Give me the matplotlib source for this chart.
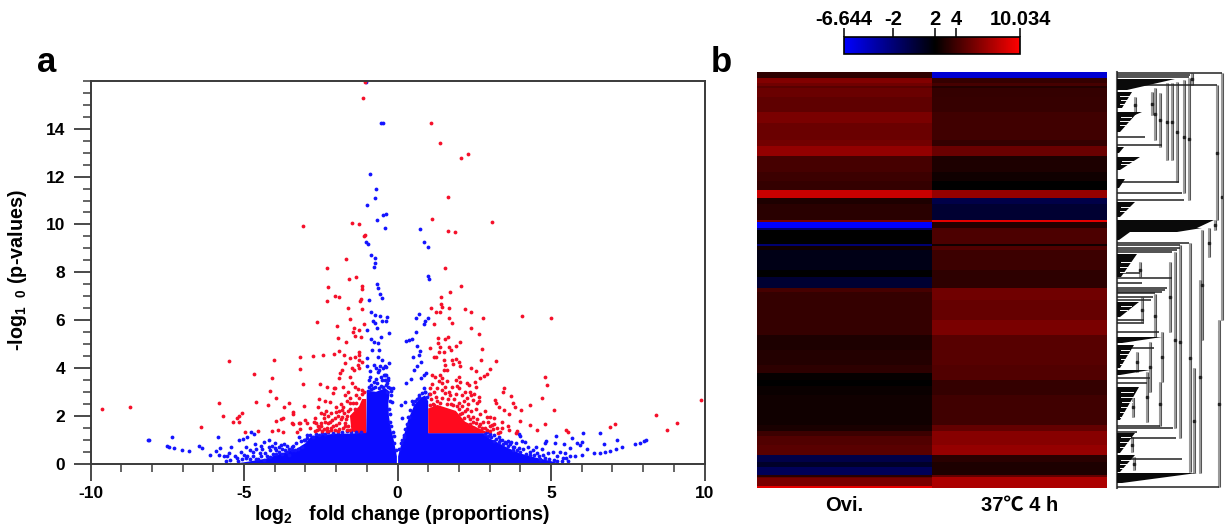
import numpy as np
import matplotlib
matplotlib.use("Agg")
import matplotlib.pyplot as plt
from matplotlib.colors import LinearSegmentedColormap, Normalize
from matplotlib.cm import ScalarMappable
from matplotlib.ticker import MultipleLocator

plt.rcParams["font.family"] = ["Liberation Sans", "Noto Sans CJK SC", "DejaVu Sans"]
plt.rcParams["font.weight"] = "bold"
plt.rcParams["mathtext.fontset"] = "custom"
plt.rcParams["mathtext.rm"] = "Liberation Sans:bold"
plt.rcParams["mathtext.default"] = "rm"
plt.rcParams["axes.unicode_minus"] = False

W, H = 1232, 531


def box(left, top, right, bottom):
    # pixel box to figure fraction
    return [left / W, 1 - bottom / H, (right - left) / W, (bottom - top) / H]


# ---- volcano data: (log2 fold change, -log10 p)
red_far = [(-9.63, 2.27), (-8.71, 2.36), (-6.4, 1.51), (-5.82, 2.52), (-5.7, 2.0), (-5.5, 4.27), (-5.36, 1.74),
           (-5.23, 1.9), (-5.16, 1.99), (-5.15, 1.75), (-5.08, 2.13), (-4.98, 1.32), (-4.66, 3.76), (-4.62, 2.56),
           (-4.56, 1.37), (-4.22, 2.45), (-4.14, 3.03), (-4.08, 3.56), (-4.08, 1.37), (-4.02, 4.32), (-3.96, 2.75),
           (-3.96, 1.76), (-3.89, 1.4), (-3.8, 1.86), (-3.74, 1.92), (-3.74, 1.33), (-3.69, 2.38), (-3.53, 2.52),
           (-3.45, 1.71), (-3.41, 1.65), (-3.4, 2.14), (-3.4, 2.06), (-3.27, 1.33), (-3.21, 1.71), (-3.16, 4.44),
           (-3.16, 3.94), (-3.16, 1.68), (-3.16, 1.43), (-3.08, 9.94), (-3.07, 3.31), (-3.06, 2.41), (-3.0, 1.82),
           (-2.94, 1.68), (-2.74, 4.5), (-2.73, 1.75), (-2.67, 1.68), (9.88, 2.66), (9.12, 1.71), (8.77, 1.42),
           (8.41, 2.02), (7.09, 1.65), (6.93, 1.53), (5.55, 1.33), (5.5, 1.4), (5.11, 2.24), (5.0, 6.07),
           (4.87, 3.3), (4.82, 3.62), (4.82, 1.65), (4.71, 2.74), (4.54, 1.42), (4.31, 2.45), (4.31, 1.62),
           (4.06, 6.17), (4.03, 2.24), (4.0, 1.76), (3.89, 1.36), (3.86, 1.26), (3.84, 2.38), (3.76, 2.55),
           (3.7, 2.82), (3.62, 2.07), (3.62, 1.4), (3.6, 1.58), (3.48, 3.16), (3.46, 2.24), (3.44, 3.0),
           (3.4, 1.75), (3.4, 1.47), (3.35, 1.33), (3.3, 2.35), (3.26, 1.29), (3.22, 4.29), (3.2, 2.55),
           (3.19, 2.66), (3.13, 1.89), (3.08, 10.12), (3.08, 1.61)]
red_top = [(-1.05, 15.95), (-1.12, 15.27), (-1.47, 10.06), (-1.25, 10.0), (-1.1, 9.53), (-1.07, 9.55), (-1.68, 8.57),
           (-2.29, 8.17), (-1.59, 7.73), (-1.34, 7.79), (-2.25, 7.4), (-2.02, 7.02), (-1.89, 6.98), (-2.3, 6.81),
           (-1.16, 7.43), (-1.16, 7.31), (-1.18, 6.87), (-1.23, 6.81), (-1.61, 6.49), (-1.16, 6.46), (-2.61, 5.91),
           (-1.54, 6.03), (-1.98, 5.77), (-1.1, 5.82), (-1.43, 5.66), (-1.27, 5.59), (-1.46, 5.52), (-1.4, 5.33),
           (-1.18, 5.31), (-1.94, 5.27), (-1.67, 5.08), (1.1, 14.25), (1.4, 13.42), (2.29, 12.96), (2.07, 12.77),
           (1.63, 11.16), (1.13, 10.24), (1.63, 9.74), (1.88, 9.68), (1.56, 8.18), (2.07, 7.43), (1.7, 7.18),
           (1.43, 6.98), (1.43, 6.67), (1.45, 6.56), (1.08, 6.49), (1.24, 6.35), (1.38, 6.32), (1.67, 6.49),
           (2.19, 6.46), (2.38, 6.32), (1.67, 6.1), (2.78, 6.1), (1.76, 5.86), (1.2, 5.82), (2.38, 5.66),
           (2.64, 5.4), (1.56, 5.2), (1.65, 5.28), (1.32, 5.24), (2.03, 5.08), (1.31, 5.03)]
red_left = [(-2.08, 4.6), (-1.92, 4.72), (-1.75, 4.54), (-1.24, 4.68), (-1.24, 4.54), (-1.54, 4.4), (-1.4, 4.47),
            (-1.24, 4.33), (-1.16, 4.26), (-1.7, 4.19), (-1.29, 4.12), (-1.81, 3.91), (-1.86, 3.77), (-1.92, 3.56),
            (-1.48, 3.98), (-1.43, 3.91), (-1.27, 3.98), (-1.54, 3.63), (-1.48, 3.35), (-2.44, 4.53), (-2.53, 3.34),
            (-2.29, 3.2), (-2.08, 3.14), (-2.1, 2.94), (-2.02, 3.14), (-1.79, 3.21), (-2.56, 2.69), (-2.6, 2.35),
            (-2.35, 2.62), (-2.19, 2.56), (-1.6, 3.0), (-1.72, 2.85), (-1.85, 2.5), (-1.9, 2.2), (-1.3, 3.1),
            (-1.15, 3.08), (-1.08, 3.0), (-1.35, 2.85), (-1.55, 2.75), (-1.65, 2.62), (-1.45, 2.55), (-1.78, 2.38),
            (-2.0, 2.35), (-2.15, 2.1), (-2.25, 2.0), (-2.4, 1.9), (-2.5, 1.7), (-2.55, 1.45), (-2.45, 1.35),
            (-2.3, 1.5), (-2.2, 1.75), (-2.05, 1.9), (-2.0, 1.6), (-2.05, 1.4), (-1.9, 1.45), (-1.85, 1.85),
            (-1.75, 2.1), (-1.7, 1.7), (-1.65, 2.0), (-1.65, 1.4), (-1.78, 1.5), (-2.15, 1.4), (-2.35, 1.75),
            (-2.6, 1.55), (-1.55, 2.3), (-1.95, 2.0), (-2.4, 2.05), (-1.6, 1.55), (-2.25, 1.35), (-1.4, 3.2),
            (-1.55, 2.55), (-1.6, 2.2), (-1.68, 1.85), (-1.72, 1.55), (-1.8, 1.95), (-1.82, 2.25), (-1.92, 1.7),
            (-1.95, 1.38), (-2.0, 2.15), (-2.1, 1.55), (-2.12, 1.8), (-2.18, 1.5), (-2.28, 1.7), (-2.32, 2.2),
            (-2.38, 1.45), (-2.48, 1.55), (-2.5, 2.1), (-2.62, 1.4), (-2.7, 1.9), (-2.85, 1.5), (-1.35, 2.55),
            (-1.4, 2.3), (-1.25, 2.75), (-1.15, 2.9), (-1.55, 1.4), (-2.7, 1.35), (-2.3, 1.35)]
red_right = [(2.75, 4.79), (3.0, 3.94), (2.71, 4.32), (2.4, 3.98), (2.57, 3.87), (2.92, 3.73), (2.81, 3.66),
             (2.7, 3.59), (2.54, 3.42), (2.57, 3.21), (2.25, 3.35), (2.32, 3.28), (2.05, 3.42), (1.92, 3.5),
             (2.0, 3.63), (1.45, 3.59), (1.21, 3.63), (1.13, 3.7), (1.4, 3.7), (1.5, 3.91), (1.62, 3.91),
             (1.56, 4.12), (1.81, 4.16), (2.05, 4.08), (2.0, 4.26), (1.89, 4.37), (1.78, 4.33), (1.5, 4.33),
             (1.24, 4.44), (1.18, 4.47), (1.34, 4.68), (1.53, 4.68), (1.74, 4.75), (1.69, 4.89), (1.38, 4.89),
             (1.92, 4.92), (1.07, 4.82), (1.13, 3.33), (1.07, 3.14), (1.45, 3.35), (1.56, 3.21), (1.78, 3.21),
             (2.0, 3.14), (1.3, 3.14), (1.45, 3.07), (1.67, 3.0), (1.89, 2.92), (2.11, 2.85), (2.35, 3.0),
             (2.5, 2.9), (2.65, 2.8), (2.6, 2.55), (2.45, 2.65), (2.3, 2.5), (2.15, 2.6), (2.0, 2.55),
             (1.85, 2.7), (1.65, 2.7), (1.45, 2.75), (1.25, 2.8), (1.08, 2.7), (1.15, 2.5), (1.75, 2.5),
             (2.25, 2.3), (2.4, 2.2), (2.55, 2.3), (2.7, 2.05), (2.85, 2.2), (2.95, 1.75), (2.8, 1.75),
             (2.6, 1.85), (2.45, 1.95), (2.3, 2.0), (2.1, 2.1), (2.0, 2.3), (3.0, 1.95), (3.1, 1.45),
             (2.85, 1.5), (2.65, 2.6), (2.25, 2.75), (1.95, 3.25), (1.35, 3.45), (1.6, 3.45), (1.2, 3.0),
             (1.95, 2.4), (2.05, 2.05), (2.15, 1.9), (2.2, 2.2), (2.35, 1.85), (2.45, 1.75), (2.55, 1.7),
             (2.65, 1.55), (2.75, 1.5), (2.9, 1.42), (3.0, 1.35), (2.1, 2.4), (1.8, 2.45), (1.6, 2.5),
             (1.4, 2.55), (1.2, 2.45), (1.05, 2.45), (1.05, 2.9), (1.3, 2.6), (2.7, 1.65), (2.9, 1.95),
             (3.0, 1.55), (2.35, 1.65), (2.5, 1.5), (3.15, 1.65), (3.25, 1.5), (2.2, 3.0), (2.4, 2.85),
             (1.7, 2.85), (1.55, 2.95)]
blue_far = [(-8.14, 1.0), (-8.08, 0.97), (-7.35, 1.11), (-7.51, 0.73), (-7.44, 0.7), (-7.28, 0.65), (-7.02, 0.58),
            (-6.8, 0.51), (-6.48, 0.72), (-6.37, 0.66), (-6.11, 0.37), (-5.92, 0.51), (-5.77, 0.63), (-5.84, 1.12),
            (-5.81, 0.36), (-5.65, 0.31), (-5.54, 0.31), (-5.43, 0.68), (-5.49, 0.43), (-5.23, 0.23), (-5.16, 0.98),
            (-5.02, 1.01), (-4.89, 1.12), (-4.78, 1.3), (-4.68, 1.22), (-5.0, 0.36), (-4.89, 0.33), (-4.72, 0.5),
            (-4.6, 0.62), (-4.48, 0.45), (-4.35, 0.9), (-4.2, 0.98), (-4.1, 0.75), (-3.98, 0.85), (-3.85, 0.68),
            (-3.7, 0.82), (-3.55, 0.62), (-3.4, 0.75), (-3.2, 1.12), (-3.05, 0.98), (-2.95, 1.18), (-4.55, 0.2),
            (-4.3, 0.42), (-4.4, 0.6), (-4.15, 0.55), (-3.95, 0.55), (-3.75, 0.6), (-3.6, 0.48), (-3.45, 0.55),
            (8.1, 0.98), (8.02, 0.94), (7.9, 0.87), (7.74, 0.83), (7.31, 0.68), (7.16, 0.98), (7.13, 0.61),
            (6.93, 0.54), (6.74, 0.83), (6.77, 0.5), (6.6, 0.45), (6.41, 0.43), (6.58, 1.26), (6.04, 1.26),
            (6.17, 0.61), (6.02, 0.91), (5.95, 0.77), (5.84, 0.84), (6.0, 0.36), (5.79, 0.33), (5.63, 0.31),
            (5.39, 0.24), (5.3, 0.5), (5.41, 0.82), (5.16, 1.15), (5.14, 0.84), (5.63, 0.63), (5.69, 1.05),
            (5.5, 0.25), (4.85, 0.95), (4.8, 0.85), (5.05, 0.5), (4.9, 0.45), (4.7, 0.62), (4.5, 0.7),
            (4.4, 0.55), (4.25, 0.68), (4.15, 0.9), (4.05, 0.95), (3.95, 1.25), (4.0, 1.15), (3.85, 0.85),
            (3.7, 0.9), (3.55, 0.85), (3.4, 1.0), (3.3, 1.1), (3.15, 1.2), (4.75, 0.35), (4.55, 0.42),
            (4.3, 0.35), (3.95, 0.65), (3.75, 0.7), (3.6, 0.95), (4.65, 0.2), (5.2, 0.3), (5.45, 0.45)]
blue_top = [(-1.02, 15.95), (-0.53, 14.26), (-0.47, 14.25), (-0.88, 12.13), (-0.71, 11.48), (-0.74, 11.09), (-0.99, 10.8),
            (-0.46, 10.38), (-0.38, 10.45), (-0.67, 10.2), (-0.42, 9.84), (-1.03, 9.28), (-0.97, 9.17), (-0.85, 8.71),
            (-0.72, 8.61), (-0.72, 8.4), (-0.77, 8.2), (0.72, 9.82), (0.85, 9.25), (0.98, 9.07), (1.0, 7.85),
            (1.03, 7.7), (-0.67, 7.51), (-0.62, 7.33), (-0.56, 7.09), (-0.49, 6.91), (-0.94, 6.84), (-0.85, 6.33),
            (-0.73, 6.21), (-0.56, 6.19), (-0.35, 6.14), (-0.81, 5.94), (-0.73, 5.86), (-0.51, 5.94), (-0.38, 5.94),
            (-0.98, 5.59), (-0.67, 5.66), (-0.29, 5.47), (-0.53, 5.31), (-0.85, 5.19), (-0.78, 5.1), (-0.62, 5.03),
            (-0.83, 4.75), (-0.6, 4.75), (-1.0, 4.43), (-0.62, 4.44), (-0.51, 4.33), (-0.4, 4.08), (-0.78, 4.12),
            (-1.0, 4.08), (-0.56, 4.08), (-0.62, 3.84), (-0.89, 3.63), (-0.4, 3.7), (-0.51, 3.49), (-0.94, 3.49),
            (-0.78, 3.42), (-0.35, 3.35), (-0.24, 3.14), (-0.67, 3.35), (-0.42, 3.49), (-0.28, 4.19), (-0.39, 4.05),
            (-0.36, 3.7), (-0.31, 3.56), (-0.14, 3.14), (-0.17, 2.59), (0.69, 6.24), (0.59, 6.1), (1.0, 6.07),
            (0.91, 5.98), (0.86, 5.84), (0.61, 5.52), (0.46, 5.22), (0.29, 5.14), (0.37, 5.17), (0.64, 4.92),
            (0.72, 4.72), (0.69, 4.55), (0.5, 4.44), (0.77, 4.26), (0.62, 4.08), (0.55, 3.91), (0.93, 3.8),
            (0.86, 3.7), (0.75, 3.56), (0.44, 3.55), (0.29, 3.35), (0.86, 3.14), (0.91, 3.0), (0.69, 2.77),
            (0.48, 2.63), (0.26, 2.56), (0.1, 2.45), (0.15, 1.92), (-0.94, 3.2), (-0.55, 3.25), (-0.8, 3.15)]
blue_edge = [(-2.95, 1.05), (-2.85, 1.2), (-2.75, 1.1), (-2.65, 1.25), (-2.55, 1.18), (-2.45, 1.28), (-2.35, 1.22),
             (-2.25, 1.3), (-2.1, 1.27), (-1.95, 1.33), (-1.8, 1.3), (-1.65, 1.35), (-1.5, 1.32), (-1.35, 1.3),
             (-1.2, 1.33), (-5.2, 0.1), (-5.05, 0.18), (-4.95, 0.25), (-4.8, 0.2), (-4.7, 0.3), (-4.6, 0.18),
             (-4.45, 0.3), (-4.35, 0.15), (-4.25, 0.33), (-4.15, 0.28), (-4.05, 0.4), (-3.95, 0.38), (-3.85, 0.5),
             (-3.75, 0.4), (-3.65, 0.55), (-3.55, 0.35), (-3.45, 0.7), (-3.35, 0.55), (-3.3, 0.85), (-3.25, 0.62),
             (-3.15, 0.95), (-3.1, 0.7), (-3.0, 1.0), (-3.6, 0.75), (-3.8, 0.78), (-4.0, 0.65), (-4.2, 0.7),
             (-4.45, 0.72), (-4.65, 0.8), (-4.8, 0.55), (-4.95, 0.7), (-5.1, 0.5), (-5.3, 0.3), (-5.45, 0.15),
             (-5.6, 0.12), (2.85, 1.22), (2.95, 1.15), (3.05, 1.12), (3.15, 0.95), (3.2, 1.02), (3.3, 0.9),
             (3.35, 0.98), (3.45, 0.8), (3.5, 0.92), (3.6, 0.75), (3.65, 0.82), (3.75, 0.55), (3.8, 0.68),
             (3.9, 0.55), (4.0, 0.5), (4.1, 0.62), (4.2, 0.4), (4.3, 0.5), (4.45, 0.35), (4.6, 0.3), (4.8, 0.22),
             (4.95, 0.2), (5.1, 0.15), (5.2, 0.12), (5.35, 0.1), (5.55, 0.12), (2.9, 1.3), (3.0, 1.25),
             (0.06, 0.6), (0.1, 0.85), (0.14, 1.0), (0.2, 1.2), (0.24, 1.45), (0.22, 1.1), (0.3, 1.65), (0.33, 1.95),
             (0.38, 1.95), (0.42, 2.25), (0.5, 2.5), (0.58, 2.6), (0.62, 2.7), (0.7, 2.85), (0.8, 2.95), (0.88, 3.0),
             (0.95, 2.8), (1.02, 2.9), (-0.05, 0.55), (-0.1, 0.85), (-0.12, 1.15), (-0.16, 1.3), (-0.2, 1.55),
             (-0.24, 1.75), (-0.25, 2.05), (-0.28, 2.3), (-0.26, 2.6), (-0.22, 2.85), (-0.2, 3.05), (-0.3, 3.2),
             (-0.38, 3.3), (-0.48, 3.2), (-0.6, 3.15), (-0.72, 3.2), (-0.85, 3.1), (-0.95, 3.05), (-0.32, 3.5),
             (-0.45, 3.7), (-0.55, 3.6), (-0.7, 3.55), (-0.85, 3.3), (-0.6, 3.9), (-0.7, 4.0), (-0.9, 3.85),
             (-0.47, 4.0), (-0.35, 3.0)]

# dense parts of the cloud, where the dots merge into one shape (x, y outlines)
blue_right_x = [0.02, 0.02, 0.1, 0.18, 0.26, 0.34, 0.45, 0.55, 0.75, 0.9, 1.0, 1.0, 2.8, 3.0, 3.3, 3.6, 4.0, 4.5, 5.0, 5.3]
blue_right_y = [0, 0.3, 0.7, 1.05, 1.4, 1.8, 2.15, 2.45, 2.75, 2.85, 2.6, 1.27, 1.27, 1.05, 0.85, 0.65, 0.42, 0.25, 0.1, 0]
blue_left_x = [-0.02, -0.02, -0.08, -0.14, -0.22, -0.28, -0.3, -0.25, -0.4, -0.7, -1.0, -1.02, -1.5, -2.0, -2.4, -2.8, -3.0, -3.3, -3.8, -4.3, -5.0, -5.3]
blue_left_y = [0, 0.3, 0.7, 1.1, 1.5, 2.0, 2.5, 3.0, 3.15, 3.0, 3.05, 1.3, 1.25, 1.25, 1.2, 1.15, 0.85, 0.6, 0.42, 0.2, 0.05, 0]
red_right_x = [1.0, 1.0, 1.3, 1.9, 2.2, 2.6, 2.9, 2.9]
red_right_y = [1.27, 2.3, 2.45, 2.2, 1.75, 1.5, 1.33, 1.27]
red_left_x = [-1.02, -1.02, -1.15, -1.25, -1.55, -1.5, -1.3]
red_left_y = [1.27, 2.7, 2.7, 2.4, 2.0, 1.35, 1.27]

x_major = [-10, -5, 0, 5, 10]
y_major = [0, 2, 4, 6, 8, 10, 12, 14]

# ---- heat map, bands from top to bottom
band_rows = [6, 5, 3, 2, 9, 15, 11, 17, 6, 10, 16, 9, 9, 8, 6, 16, 2, 6, 2, 14, 2, 4, 20, 7, 11, 4, 8, 20, 15,
             15, 15, 8, 7, 6, 9, 30, 6, 5, 9, 10, 7, 5, 8, 2, 1, 8, 2]
ovi_values = [3.4, 6.1, 5.5, 4.8, 5.3, 5.0, 5.8, 5.3, 5.6, 6.6, 4.2, 3.9, 3.6, 8.3, 2.9, 3.3, 5.8, -6.6, -1.4,
              2.0, -1.7, 2.5, 1.3, 2.0, 0.3, 4.2, 3.6, 3.6, 3.6, 2.9, 3.1, 3.4, 2.2, 2.0, 2.3, 2.5, 2.8, 3.9,
              4.5, 4.8, -0.4, 0.6, -1.0, 3.3, 5.1, 5.8, 9.2]
ovi_values = np.array(ovi_values)
heat_values = [-5.1, 3.6, 4.2, 3.1, 3.6, 3.7, 4.0, 4.0, 3.6, 5.3, 2.9, 2.5, 2.0, 6.7, -0.4, 0.3, 9.2, 3.1, 4.4,
               4.4, 2.6, 4.5, 3.9, 3.4, 3.4, 5.5, 5.5, 5.2, 5.8, 4.7, 4.7, 4.5, 4.5, 3.6, 3.6, 4.0, 5.1, 6.2,
               6.2, 6.7, 3.3, 2.9, 2.9, 5.1, 7.4, 7.4, 7.4]
heat_values = np.array(heat_values)
bar_ticks = [-6.644, -2, 2, 4, 10.034]
bar_labels = ["-6.644", "-2", "2", "4", "10.034"]
col_labels = ["Ovi.", "37\u2103 4 h"]

# ---- dendrogram read by eye: distance from the leaves, rows from the top
# wedges: row top, row bottom, distance at top, distance at bottom
wedges = [(7, 18, 58, 10), (20, 36, 15, 5), (40, 43, 25, 18), (41, 60, 20, 3), (75, 81, 7, 2), (85, 98, 23, 3),
          (107, 116, 8, 2), (130, 145, 18, 3), (148, 156, 97, 80), (156, 160, 85, 60), (160, 168, 13, 2),
          (182, 205, 20, 4), (230, 245, 22, 3), (265, 271, 45, 5), (273, 296, 17, 3), (298, 303, 33, 3),
          (315, 348, 22, 3), (361, 381, 18, 3), (383, 400, 18, 3), (401, 411, 80, 5)]
# white gaps inside the clusters: row, from, to
gaps = [(24, 3, 12), (28, 4, 12), (32, 3, 9), (45, 4, 14), (49, 3, 12), (53, 3, 9), (89, 5, 16), (92, 4, 12),
        (320, 4, 16), (325, 4, 18), (330, 5, 15), (335, 4, 14), (340, 3, 10), (345, 3, 7), (278, 4, 12), (282, 3, 11),
        (287, 4, 10), (292, 3, 7), (365, 4, 13), (370, 3, 11), (375, 3, 8), (388, 4, 13), (392, 3, 10), (396, 3, 7),
        (234, 4, 14), (238, 3, 10), (190, 4, 14), (195, 3, 12), (200, 3, 8), (135, 4, 12), (139, 3, 8)]
# horizontals: row, distance
branches = [(1, 105), (3, 73), (5, 72), (65, 28), (73, 45), (110, 62), (121, 65), (128, 67), (171, 72), (173, 63),
            (176, 63), (178, 60), (180, 55), (201, 23), (206, 55), (211, 25), (216, 50), (218, 48), (220, 45),
            (221, 38), (225, 36), (228, 34), (248, 27), (251, 27), (260, 42), (276, 37), (306, 33), (311, 30),
            (354, 43), (356, 56), (360, 20), (366, 59), (387, 65), (415, 102), (13, 100)]
# verticals: distance, row top, row bottom
joins = [(35, 20, 43), (38, 16, 68), (43, 21, 75), (50, 11, 88), (55, 11, 88), (60, 10, 110), (67, 8, 121),
         (72, 6, 128), (75, 1, 13), (100, 13, 148), (105, 1, 248), (102, 248, 415), (98, 148, 158), (92, 156, 185),
         (85, 158, 268), (83, 208, 401), (73, 171, 400), (77, 296, 401), (63, 173, 366), (58, 180, 356),
         (53, 190, 260), (45, 260, 310), (38, 222, 265), (33, 270, 320), (30, 300, 350), (23, 190, 205),
         (25, 225, 250), (43, 310, 354), (18, 25, 40), (20, 280, 300), (16, 325, 345), (15, 365, 380), (17, 385, 398)]

fig = plt.figure(figsize=(W / 100, H / 100), dpi=100)

# panel a
ax = fig.add_axes(box(90.5, 81, 704.5, 463.5))
dark = "#3a3a3a"
ax.fill(blue_right_x, blue_right_y, color="#0a0aff", lw=0, zorder=2)
ax.fill(blue_left_x, blue_left_y, color="#0a0aff", lw=0, zorder=2)
ax.fill(red_right_x, red_right_y, color="#ff0a1e", lw=0, zorder=3)
ax.fill(red_left_x, red_left_y, color="#ff0a1e", lw=0, zorder=3)
blue = np.array(blue_far + blue_top + blue_edge)
red = np.array(red_far + red_top + red_left + red_right)
ax.scatter(blue[:, 0], blue[:, 1], s=7.5, c="#1414ff", lw=0, zorder=3, clip_on=False)
ax.scatter(red[:, 0], red[:, 1], s=7.5, c="#f5102a", lw=0, zorder=4, clip_on=False)
ax.set_xlim(-10, 10)
ax.set_ylim(0, 16)
ax.set_xticks(x_major)
ax.set_yticks(y_major)
ax.xaxis.set_minor_locator(MultipleLocator(1))
ax.yaxis.set_minor_locator(MultipleLocator(0.5))
ax.tick_params(which="major", length=12, width=1.3, color=dark, labelsize=12.5, pad=4)
ax.tick_params(which="minor", length=6, width=1.1, color=dark)
ax.tick_params(axis="y", which="major", pad=6)
for s in ax.spines.values():
    s.set_color(dark)
    s.set_linewidth(1.4)
    s.set_zorder(5)
fig.text(402 / W, 1 - 515 / H, r"log$_{2}$   fold change (proportions)", fontsize=14.2, ha="center", va="center")
fig.text(18 / W, 1 - 270 / H, r"-log$_{1\ \ 0}$ (p-values)", fontsize=14.2, rotation=90, ha="center", va="center")
fig.text(47 / W, 1 - 62 / H, "a", fontsize=25, ha="center", va="center")
fig.text(721 / W, 1 - 63 / H, "b", fontsize=25, ha="center", va="center")

# panel b heat map
low, mid, high = -6.644, 2, 10.034
pos = (mid - low) / (high - low)
cmap = LinearSegmentedColormap.from_list("bkr", [(0, "#0000ff"), (pos, "#000000"), (1, "#ff0000")])
norm = Normalize(low, high)
hm = fig.add_axes(box(757, 72, 1107, 488))
edges = np.concatenate([[0], np.cumsum(band_rows)])
hm.pcolormesh([0, 1, 2], edges, np.column_stack([ovi_values, heat_values]), cmap=cmap, norm=norm)
hm.set_ylim(edges[-1], 0)
hm.axis("off")
for i, lab in enumerate(col_labels):
    hm.annotate(lab, (i + 0.5, 1), xycoords=("data", "axes fraction"), xytext=(0, -(505.5 - 72) * 0.72),
                textcoords="offset points", fontsize=14.5, ha="center", va="center")

# colour bar
cax = fig.add_axes(box(844, 37, 1020, 54))
cb = fig.colorbar(ScalarMappable(norm=norm, cmap=cmap), cax=cax, orientation="horizontal")
cb.set_ticks(bar_ticks)
cb.set_ticklabels(bar_labels)
cb.ax.xaxis.set_ticks_position("top")
cb.ax.tick_params(length=6.5, width=1.1, labelsize=14.5, pad=-1)
cb.outline.set_linewidth(1.2)

# dendrogram
dn = fig.add_axes(box(1117, 72, 1222, 488))
dn.set_xlim(0, 105)
dn.set_ylim(416, 0)
dn.axis("off")
dn.plot([0, 0], [0, 416], color="#555555", lw=1.5, clip_on=False)
for d, r0, r1 in joins:
    dn.plot([d, d], [r0, r1], color="#555555", lw=2.2, solid_capstyle="butt", clip_on=False, zorder=1)
    dn.plot([d, d], [r0, r1], color="#b0b0b0", lw=1.1, solid_capstyle="butt", clip_on=False, zorder=1)
    dn.plot(d, (r0 + r1) / 2, "s", color="#222222", ms=1.8, zorder=3)
for r, d in branches:
    dn.plot([0, d], [r, r], color="#222222", lw=1.1, solid_capstyle="butt", clip_on=False, zorder=2)
for r0, r1, d0, d1 in wedges:
    dn.fill([0, d0, d1, 0], [r0, r0, r1, r1], color="#0a0a0a", lw=0, zorder=2)
for r, d0, d1 in gaps:
    dn.plot([d0, d1], [r, r], color="white", lw=0.7, zorder=2.5)

fig.savefig("out.png", dpi=100)
